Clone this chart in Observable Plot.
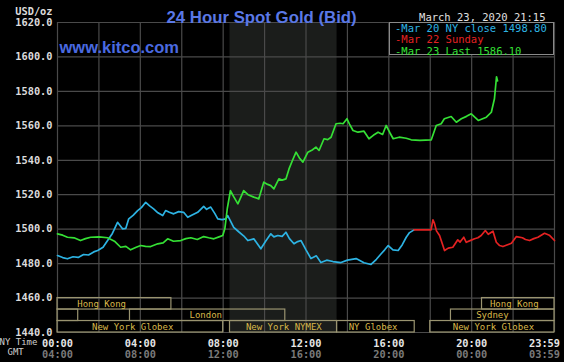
<!DOCTYPE html>
<html><head><meta charset="utf-8">
<script src="https://cdn.jsdelivr.net/npm/d3@7"></script>
<script src="https://cdn.jsdelivr.net/npm/@observablehq/plot@0.6"></script>
<style>
html,body{margin:0;padding:0;background:#000;}
#wrap{position:relative;width:564px;height:362px;overflow:hidden;background:#000;}
#legend{position:absolute;left:389px;top:22px;width:165px;height:33px;background:#000;border:1px solid #8a8a8a;
 font-family:"DejaVu Sans Mono",monospace;font-size:10.5px;line-height:11.3px;padding-top:0px;box-sizing:border-box;}
#legend div{white-space:pre;padding-left:5px;}
</style>
</head><body><div id="wrap"></div>
<script>
// ---- data ----
const blueHours = [0,0.25,0.48,0.75,1.0,1.26,1.5,1.75,1.94,2.2,2.42,2.65,2.9,3.14,3.3,3.44,3.65,3.87,4.05,4.26,4.45,4.64,4.85,5.08,5.22,5.4,5.61,5.85,6.09,6.29,6.5,6.77,7.06,7.2,7.4,7.6,7.74,7.95,8.13,8.22,8.51,8.75,9.0,9.19,9.48,9.65,9.82,10.05,10.3,10.45,10.64,10.85,11.03,11.2,11.42,11.6,11.76,12.0,12.24,12.5,12.72,13.0,13.3,13.69,14.0,14.42,14.8,15.14,15.4,15.63,15.8,15.97,16.2,16.45,16.65,16.84,17.0,17.22];
const blueValues = [1484.7,1483.5,1482.8,1484.0,1483.6,1485.3,1485.0,1486.8,1487.6,1489.5,1493.4,1497.5,1504.0,1500.2,1500.5,1506.0,1508.0,1510.8,1512.5,1515.6,1513.5,1511.8,1509.5,1507.9,1510.8,1509.8,1508.9,1510.2,1509.8,1506.9,1508.2,1509.8,1513.2,1511.5,1512.8,1509.0,1506.0,1505.5,1506.0,1507.9,1501.1,1498.5,1496.0,1493.4,1494.4,1491.5,1488.6,1493.0,1497.3,1495.5,1496.3,1495.8,1498.2,1494.5,1491.5,1492.8,1493.4,1488.0,1482.9,1484.5,1480.6,1482.0,1481.2,1480.6,1482.0,1482.9,1480.5,1479.5,1482.5,1485.7,1488.0,1490.5,1488.0,1487.6,1491.0,1495.3,1498.0,1499.6];

const redHours = [17.22,18.04,18.13,18.2,18.3,18.45,18.69,18.87,19.09,19.33,19.44,19.62,19.74,19.95,20.14,20.3,20.46,20.66,20.8,21.03,21.19,21.35,21.51,21.7,21.92,22.16,22.45,22.6,22.8,23.0,23.2,23.52,23.75,24.0];
const redValues = [1499.6,1499.6,1505.4,1503.5,1499.0,1496.3,1487.6,1489.0,1489.5,1493.8,1492.5,1495.3,1492.4,1493.5,1494.4,1495.0,1496.3,1499.2,1497.0,1498.8,1492.4,1490.5,1489.9,1490.8,1491.8,1495.7,1495.0,1494.0,1493.4,1494.5,1495.3,1497.6,1496.5,1493.4];

const greenHours = [0,0.25,0.48,0.8,1.11,1.35,1.6,2.0,2.42,2.75,3.05,3.3,3.53,3.8,4.02,4.25,4.5,4.84,5.1,5.32,5.6,5.95,6.2,6.44,6.75,7.06,7.3,7.55,7.8,7.98,8.08,8.2,8.35,8.5,8.71,8.85,8.99,9.2,9.48,9.72,9.96,10.15,10.3,10.45,10.69,10.85,11.03,11.18,11.35,11.52,11.7,11.85,12.09,12.3,12.48,12.63,12.87,13.05,13.21,13.45,13.65,13.79,13.98,14.1,14.27,14.51,14.8,15.04,15.25,15.48,15.7,15.87,16.05,16.21,16.5,16.84,17.08,17.5,18.05,18.29,18.53,18.68,19.01,19.26,19.5,19.75,19.98,20.15,20.32,20.5,20.71,20.95,21.1,21.2,21.25];
const greenValues = [1497.3,1496.5,1495.3,1495.0,1493.4,1494.5,1495.3,1495.5,1495.0,1493.0,1489.5,1490.0,1488.0,1489.5,1490.5,1490.0,1489.9,1491.5,1492.0,1494.4,1493.0,1493.4,1494.5,1495.0,1494.0,1495.7,1495.0,1494.4,1495.5,1496.3,1500.2,1512.0,1522.4,1519.0,1514.7,1518.5,1522.4,1520.0,1518.6,1517.6,1527.3,1526.0,1525.3,1523.4,1529.2,1528.5,1529.2,1535.0,1540.0,1544.7,1541.0,1538.9,1544.7,1546.0,1547.6,1545.7,1552.5,1552.0,1553.4,1561.2,1561.5,1561.2,1564.1,1561.0,1557.3,1556.3,1556.9,1552.5,1554.5,1556.3,1555.0,1560.2,1556.0,1552.5,1553.4,1552.8,1551.9,1551.6,1551.9,1560.2,1561.2,1564.1,1565.4,1562.1,1564.1,1565.5,1567.0,1565.0,1563.1,1564.0,1565.0,1567.9,1575.7,1588.5,1586.1];

const marketNames = ["Hong Kong","Hong Kong","","London","Sydney","New York Globex","New York NYMEX","NY Globex","New York Globex"];
const marketRows  = [0,0,1,1,1,2,2,2,2];
const marketStart = [0,20.5,0,3.5,19,0,8.33,13.5,18];
const marketEnd   = [5.5,24,1,11,24,8,13.5,17.25,24];
const marketLabelAt = [2.13,22.06,0.5,7.16,21.0,3.63,10.93,15.24,21.05];

const nymexSession = [8.33, 13.5];
const yTicks = [1440,1460,1480,1500,1520,1540,1560,1580,1600,1620];
const gridHours = [0,2,4,6,8,10,12,14,16,18,20,22,24];
const labelHours = [0,4,8,12,16,20];
const nyTimeLabels = ["00:00","04:00","08:00","12:00","16:00","20:00"];
const gmtLabels = ["04:00","08:00","12:00","16:00","20:00","00:00"];
const endHour = [24];
const endNyLabel = "23:59";
const endGmtLabel = "03:59";

const legendLabels = ["Mar 20 NY close 1498.80","Mar 22 Sunday","Mar 23 Last 1586.10"];
const seriesColors = ["#2db3e3","#e42222","#35e035"];

// ---- build ----
const toPts = (h, v) => h.map((t, i) => ({t, v: v[i]}));
const blue = toPts(blueHours, blueValues);
const red = toPts(redHours, redValues);
const green = toPts(greenHours, greenValues);
const markets = marketNames.map((name, i) => ({
  name, row: marketRows[i], start: marketStart[i], end: marketEnd[i], at: marketLabelAt[i]
}));
const rowH = 20 / 3;
const mono = "DejaVu Sans Mono";
const nyStyle = {fill: "#e6e6e6", fontFamily: mono, fontSize: 10.3, fontWeight: "bold"};
const gmtStyle = {fill: "#7a7a7a", fontFamily: mono, fontSize: 10.3, fontWeight: "bold"};

const chart = Plot.plot({
  width: 564, height: 362,
  marginLeft: 57, marginRight: 10, marginTop: 22, marginBottom: 30,
  x: {domain: [0, 24], axis: null},
  y: {domain: [1440, 1620], axis: null},
  style: {background: "#000", overflow: "visible"},
  marks: [
    Plot.rect([nymexSession], {x1: d => d[0], x2: d => d[1], y1: 1440, y2: 1620, fill: "#1b1d1b"}),
    Plot.ruleX(gridHours, {stroke: "#4a4a4a", strokeWidth: 1.2}),
    Plot.ruleY(yTicks, {stroke: "#4a4a4a", strokeWidth: 1.2}),
    Plot.rect(markets, {
      x1: "start", x2: "end",
      y1: d => 1460 - d.row * rowH, y2: d => 1460 - (d.row + 1) * rowH,
      fill: "none", stroke: "#9a9470", strokeWidth: 1.2
    }),
    Plot.text(markets, {
      x: "at", y: d => 1460 - (d.row + 0.5) * rowH, text: "name",
      fill: "#d9b94a", fontFamily: mono, fontSize: 9
    }),
    Plot.line(blue, {x: "t", y: "v", stroke: seriesColors[0], strokeWidth: 1.7}),
    Plot.line(red, {x: "t", y: "v", stroke: seriesColors[1], strokeWidth: 1.7}),
    Plot.line(green, {x: "t", y: "v", stroke: seriesColors[2], strokeWidth: 1.7}),
    // y tick labels
    Plot.text(yTicks, {x: 0, y: d => d, text: d => d.toFixed(1), textAnchor: "end", dx: -5,
      fill: "#dcdcdc", fontFamily: mono, fontSize: 10.3, fontWeight: "bold"}),
    // x labels
    Plot.text(labelHours, {x: d => d, y: 1440, text: (d, i) => nyTimeLabels[i], dy: 11, ...nyStyle}),
    Plot.text(labelHours, {x: d => d, y: 1440, text: (d, i) => gmtLabels[i], dy: 22, ...gmtStyle}),
    Plot.text(endHour, {x: d => d, y: 1440, text: [endNyLabel], dx: -10, dy: 11, ...nyStyle}),
    Plot.text(endHour, {x: d => d, y: 1440, text: [endGmtLabel], dx: -10, dy: 22, ...gmtStyle}),
    Plot.text(["NY Time"], {frameAnchor: "bottom-left", dx: -58, dy: 12.5, textAnchor: "start",
      fill: "#cfcfcf", fontFamily: mono, fontSize: 9}),
    Plot.text(["GMT"], {frameAnchor: "bottom-left", dx: -50, dy: 22.5, textAnchor: "start",
      fill: "#cfcfcf", fontFamily: mono, fontSize: 9}),
    // top texts
    Plot.text(["USD/oz"], {frameAnchor: "top-left", dx: -5, dy: -14.5, textAnchor: "end",
      fill: "#dcdcdc", fontFamily: mono, fontSize: 10.3, fontWeight: "bold"}),
    Plot.text(["24 Hour Spot Gold (Bid)"], {frameAnchor: "top-left", dx: 109, dy: -11, textAnchor: "start",
      fill: "#5a78e6", fontFamily: "Liberation Sans", fontSize: 16.8, fontWeight: "bold"}),
    Plot.text(["www.kitco.com"], {frameAnchor: "top-left", dx: 2, dy: 19, textAnchor: "start",
      fill: "#4a6ae0", fontFamily: "Liberation Sans", fontSize: 16.5, fontWeight: "bold"}),
    Plot.text(["March 23, 2020 21:15"], {frameAnchor: "top-right", dx: -9, dy: -8.5, textAnchor: "end",
      fill: "#e0e0e0", fontFamily: mono, fontSize: 10.5})
  ]
});

const wrap = document.getElementById("wrap");
wrap.appendChild(chart);

const legend = document.createElement("div");
legend.id = "legend";
legendLabels.forEach((lab, i) => {
  const row = document.createElement("div");
  row.style.color = seriesColors[i];
  row.textContent = "-" + lab;
  legend.appendChild(row);
});
wrap.appendChild(legend);
</script>
</body></html>
